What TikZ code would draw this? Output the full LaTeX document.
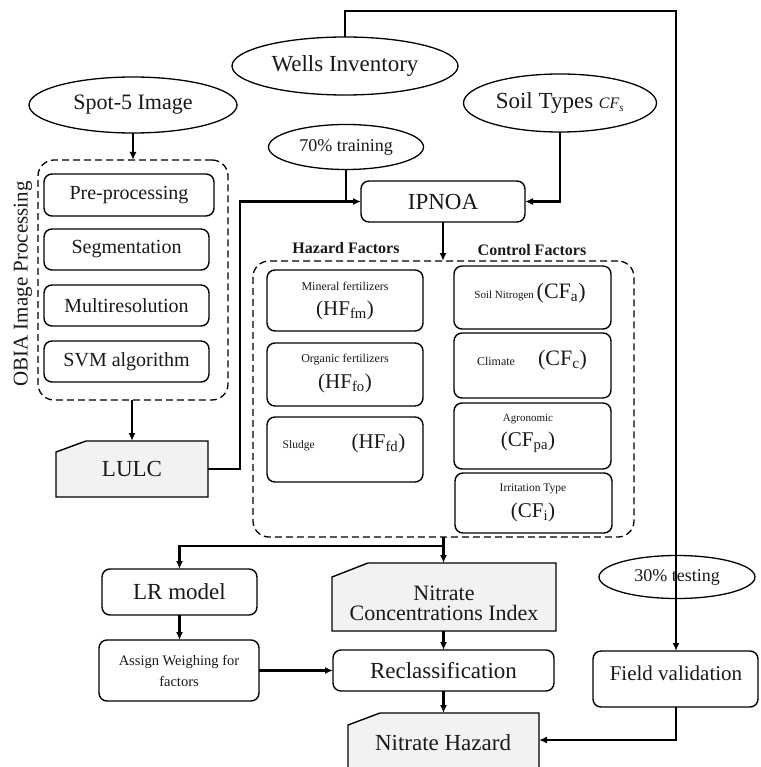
\documentclass[tikz,border=0pt]{standalone}
\usepackage{fontspec}
\setmainfont{Liberation Serif}
\usetikzlibrary{shapes.geometric,arrows.meta}
\newcommand{\fsz}[1]{\fontsize{#1}{#1}\selectfont}
\begin{document}
\begin{tikzpicture}[x=1pt,y=-1pt,
  every node/.style={inner sep=0pt, outer sep=0pt, text=black!90},
  oval/.style={ellipse, draw, line width=1.3pt},
  box/.style={rectangle, rounded corners=8pt, draw, line width=1.4pt},
  dbox/.style={rectangle, rounded corners=16pt, draw, line width=1.3pt, dash pattern=on 7pt off 4pt},
  arr/.style={line width=2.1pt, -{Latex[length=8pt,width=7pt]}},
  ln/.style={line width=2.1pt},
  bare/.style={rectangle, draw=none}
]
\useasboundingbox (0,0) rectangle (760,767);
\fill[white] (0,0) rectangle (760,767);

% top ellipses
\node[oval, minimum width=226pt, minimum height=58pt] (wells) at (345,66) {\fsz{23}Wells Inventory};
\node[oval, minimum width=208pt, minimum height=56pt] (spot) at (133,105) {\fsz{22}Spot-5 Image};
\node[oval, minimum width=193pt, minimum height=58pt] (soil) at (560,103) {\fsz{23}Soil Types {\fsz{16}\itshape CF\textsubscript{s}}};
\node[oval, minimum width=155pt, minimum height=45pt] (train) at (346,147) {\fsz{18}70\% training};
\node[oval, minimum width=156pt, minimum height=43pt] (test) at (677,577) {\fsz{18}30\% testing};

% IPNOA
\node[box, minimum width=164pt, minimum height=41pt] (ipnoa) at (443,201.5) {\fsz{23}IPNOA};

% OBIA block
\node[dbox, minimum width=190pt, minimum height=240pt] (obia) at (133,280) {};
\node[box, minimum width=170pt, minimum height=42pt] (pre) at (129,195) {\fsz{20}Pre-processing};
\node[box, minimum width=165pt, minimum height=41pt] (seg) at (126.5,249.5) {\fsz{20}Segmentation};
\node[box, minimum width=165pt, minimum height=41pt] (multi) at (126.5,305.5) {\fsz{20}Multiresolution};
\node[box, minimum width=165pt, minimum height=41pt] (svm) at (126.5,361.5) {\fsz{20}SVM algorithm};
\node[rotate=90] (obialbl) at (23,284) {\fsz{21}OBIA Image Processing};

% LULC
\fill[black!5] (56,452) -- (86,441) -- (208,441) -- (208,497) -- (56,497) -- cycle;
\draw[line width=1.4pt] (56,452) -- (86,441) -- (208,441) -- (208,497) -- (56,497) -- cycle;
\node[bare, minimum width=152pt, minimum height=56pt] (lulc) at (132,469) {\fsz{23}LULC};

% factors block
\node[dbox, minimum width=381pt, minimum height=276pt] (hz) at (443.5,399) {};
\node (hzlbl) at (346,248) {\fsz{16}\bfseries Hazard Factors};
\node (ctlbl) at (532,250) {\fsz{16}\bfseries Control Factors};

\node[box, minimum width=156pt, minimum height=61pt] (min) at (345,300.5) {};
\node (minA) at (345,286) {\fsz{12}Mineral fertilizers};
\node (minB) at (345,310) {\fsz{21}(HF\textsubscript{fm})};

\node[box, minimum width=156pt, minimum height=63pt] (org) at (345,374.5) {};
\node (orgA) at (345,360) {\fsz{12}Organic fertilizers};
\node (orgB) at (345,383) {\fsz{21}(HF\textsubscript{fo})};

\node[box, minimum width=156pt, minimum height=65pt] (slu) at (345,449.5) {};
\node (sluA) at (344,443) {\fsz{11.5}Sludge\hspace{37pt}\fsz{21}(HF\textsubscript{fd})};

\node[box, minimum width=157pt, minimum height=63pt] (sn) at (532.5,297.5) {};
\node (snA) at (530,293) {\fsz{11}Soil Nitrogen \fsz{22}(CF\textsubscript{a})};

\node[box, minimum width=157pt, minimum height=65pt] (cli) at (532.5,365.5) {};
\node (cliA) at (532,360) {\fsz{12}Climate\hspace{23pt}\fsz{22}(CF\textsubscript{c})};

\node[box, minimum width=157pt, minimum height=66pt] (agr) at (532.5,436) {};
\node (agrA) at (528,419) {\fsz{11}Agronomic};
\node (agrB) at (528,442) {\fsz{21}(CF\textsubscript{pa})};

\node[box, minimum width=157pt, minimum height=60pt] (irr) at (533.5,503) {};
\node (irrA) at (533,489) {\fsz{11.5}Irritation Type};
\node (irrB) at (533,512) {\fsz{21}(CF\textsubscript{i})};

% bottom part
\node[box, minimum width=155pt, minimum height=46pt] (lr) at (179.5,592) {\fsz{23}LR model};
\node[box, minimum width=160pt, minimum height=61pt, align=center,
      font=\fontsize{14.5}{21}\selectfont] (asg) at (179,670.5) {Assign Weighing for\\factors};

\fill[black!5] (332,577) -- (368,563) -- (556,563) -- (556,631) -- (332,631) -- cycle;
\draw[line width=1.4pt] (332,577) -- (368,563) -- (556,563) -- (556,631) -- (332,631) -- cycle;
\node[bare, minimum width=224pt, minimum height=68pt] (nci) at (444,597) {};
\node[align=center, font=\fontsize{22}{20}\selectfont] (ncitxt) at (444,603) {Nitrate\\Concentrations Index};

\node[box, minimum width=221pt, minimum height=41pt] (rec) at (443.5,670.5) {\fsz{23}Reclassification};

\fill[black!5] (348,725) -- (380,713) -- (539,713) -- (539,775) -- (348,775) -- cycle;
\draw[line width=1.4pt] (348,775) -- (348,725) -- (380,713) -- (539,713) -- (539,775);
\node[bare, minimum width=191pt, minimum height=54pt] (nh) at (443.5,740) {};
\node (nhtxt) at (443,743) {\fsz{23}Nitrate Hazard};

\node[box, minimum width=165pt, minimum height=56pt] (field) at (675.5,679) {};
\node (fieldtxt) at (676,673) {\fsz{21}Field validation};

% connectors
\coordinate (tl) at (345,11);
\coordinate (tr) at (676,11);
\draw[arr] (wells.north) -- (tl) -- (tr) -- (field.north -| tr);
\draw[arr] (spot.south) -- (obia.north -| spot.south);
\draw[arr] (obia.south -| lulc.north) -- (lulc.north);
\coordinate (lj) at (240,201.5);
\draw[arr] (lulc.east) -| (lj) -- (ipnoa.west);
\draw[ln] (train.south) -- (train.south |- ipnoa.west);
\draw[arr] (soil.south) |- (ipnoa.east);
\draw[arr] (ipnoa.south) -- (hz.north -| ipnoa.south);
\coordinate (br) at (443.5,546);
\draw[arr] (hz.south) -- (nci.north -| hz.south);
\draw[arr] (br) -| (lr.north);
\draw[arr] (lr.south) -- (asg.north -| lr.south);
\draw[arr] (asg.east) -- (rec.west |- asg.east);
\draw[arr] (nci.south -| rec.north) -- (rec.north);
\draw[arr] (rec.south) -- (nh.north -| rec.south);
\draw[arr] (field.south -| tr) |- (nh.east);
\end{tikzpicture}
\end{document}
